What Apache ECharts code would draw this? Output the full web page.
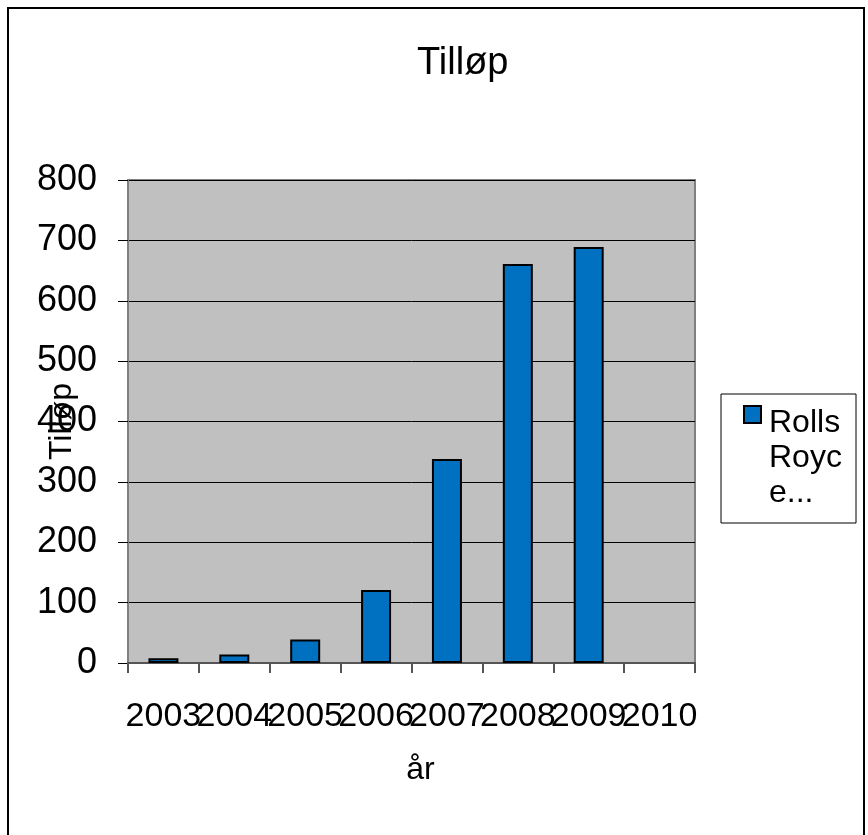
<!DOCTYPE html>
<html>
<head>
<meta charset="utf-8">
<script src="https://cdn.jsdelivr.net/npm/echarts@6/dist/echarts.min.js"></script>
<style>
html,body{margin:0;padding:0;background:#fff;}
#chart{width:868px;height:835px;}
</style>
</head>
<body>
<div id="chart"></div>
<script>
const categories = ['2003','2004','2005','2006','2007','2008','2009','2010'];
const tilloep = [8, 14, 39, 121, 338, 661, 689, null];
const seriesName = 'Rolls Royce...';
const titleText = 'Tilløp';
const yName = 'Tilløp';
const xName = 'år';

const FONT = '"Liberation Sans", Arial, sans-serif';
const chart = echarts.init(document.getElementById('chart'), null, {renderer: 'canvas'});
chart.setOption({
  animation: false,
  backgroundColor: '#ffffff',
  textStyle: {fontFamily: FONT, color: '#000'},
  graphic: [{
    type: 'rect',
    shape: {x: 8, y: 8, width: 856, height: 840},
    style: {fill: 'none', stroke: '#000', lineWidth: 2},
    silent: true
  }],
  title: {
    text: titleText,
    left: 412,
    top: 40,
    textStyle: {fontFamily: FONT, fontSize: 38, fontWeight: 'normal', color: '#000'}
  },
  legend: {
    show: true,
    left: 721,
    top: 394,
    orient: 'vertical',
    backgroundColor: '#fff',
    borderColor: '#000',
    borderWidth: 1,
    padding: [11, 1, 11, 22],
    itemWidth: 20,
    itemHeight: 105,
    itemGap: 0,
    icon: 'path://M0,0h17v17h-17z M20,105',
    textStyle: {fontFamily: FONT, fontSize: 32, color: '#000', width: 86, overflow: 'breakAll', lineHeight: 35}
  },
  grid: {
    left: 128, top: 180, right: 173, bottom: 172,
    show: true,
    backgroundColor: '#c0c0c0',
    borderColor: '#808080',
    borderWidth: 2,
    containLabel: false,
    outerBoundsMode: 'none'
  },
  xAxis: {
    type: 'category',
    data: categories,
    boundaryGap: true,
    name: xName,
    nameLocation: 'middle',
    nameGap: 91,
    nameMoveOverlap: false,
    nameTextStyle: {fontFamily: FONT, fontSize: 32, color: '#000', padding: [0, 0, 0, 18]},
    axisLine: {show: true, lineStyle: {color: '#555', width: 2}},
    axisTick: {show: true, alignWithLabel: false, length: 10, lineStyle: {color: '#555', width: 2}},
    axisLabel: {interval: 0, margin: 37, fontFamily: FONT, fontSize: 34, color: '#000', hideOverlap: false},
    splitLine: {show: false}
  },
  yAxis: {
    type: 'value',
    min: 0, max: 800, interval: 100,
    name: yName,
    nameLocation: 'middle',
    nameGap: 50,
    nameRotate: 90,
    nameMoveOverlap: false,
    nameTextStyle: {fontFamily: FONT, fontSize: 32, color: '#000'},
    axisLine: {show: true, lineStyle: {color: '#808080', width: 2}},
    axisTick: {show: true, length: 10, lineStyle: {color: '#000', width: 1}},
    axisLabel: {margin: 31, fontFamily: FONT, fontSize: 36, color: '#000'},
    splitLine: {show: true, lineStyle: {color: '#000', width: 1}}
  },
  series: [{
    name: seriesName,
    type: 'bar',
    data: tilloep,
    barWidth: 30,
    itemStyle: {color: '#0070c0', borderColor: '#000', borderWidth: 2}
  }]
});
</script>
</body>
</html>
